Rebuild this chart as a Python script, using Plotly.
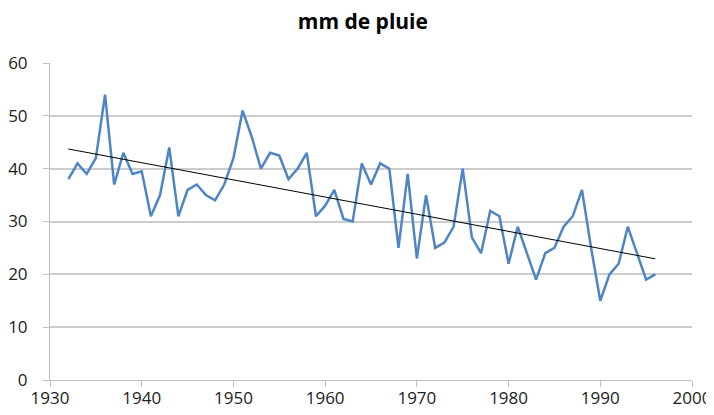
import numpy as np
import plotly.graph_objects as go

years = list(range(1932, 1997))
rain_mm = [38, 41, 39, 42, 54, 37, 43, 39, 39.5, 31,
           35, 44, 31, 36, 37, 35, 34, 37, 42, 51,
           46, 40, 43, 42.5, 38, 40, 43, 31, 33, 36,
           30.5, 30, 41, 37, 41, 40, 25, 39, 23, 35,
           25, 26, 29, 40, 27, 24, 32, 31, 22, 29,
           24, 19, 24, 25, 29, 31, 36, 25, 15, 20,
           22, 29, 24, 19, 20]
title_text = "mm de pluie"
x_ticks = [1930, 1940, 1950, 1960, 1970, 1980, 1990, 2000]
y_ticks = [0, 10, 20, 30, 40, 50, 60]

# Linear trend line (least squares)
slope, intercept = np.polyfit(years, rain_mm, 1)
trend_x = [years[0], years[-1]]
trend_y = [slope * x + intercept for x in trend_x]

fig = go.Figure()
fig.add_trace(go.Scatter(x=years, y=rain_mm, mode="lines",
                         line=dict(color="#4D85C5", width=2.5),
                         showlegend=False))
fig.add_trace(go.Scatter(x=trend_x, y=trend_y, mode="lines",
                         line=dict(color="#000000", width=1),
                         showlegend=False))

fig.update_layout(
    width=714, height=415,
    margin=dict(l=42, r=30, t=55, b=43),
    paper_bgcolor="white", plot_bgcolor="white",
    font=dict(family="Open Sans, Lato, sans-serif", size=17, color="#222222"),
    title=dict(text="<b>" + title_text + "</b>", x=0.497, xanchor="center",
               y=0.966, yanchor="middle",
               font=dict(size=21, color="#000000")),
)
fig.update_xaxes(range=[1930, 2000], tickvals=x_ticks, showgrid=False,
                 showline=True, linecolor="#BFBFBF", linewidth=1,
                 ticks="outside", ticklen=6, tickcolor="#BFBFBF",
                 ticklabelstandoff=-3,
                 zeroline=False, automargin=False)
fig.update_yaxes(range=[0, 60], tickvals=y_ticks, showgrid=True,
                 gridcolor="#CCCCCC", gridwidth=1.5,
                 showline=True, linecolor="#BFBFBF", linewidth=1,
                 ticks="outside", ticklen=6, tickcolor="#BFBFBF",
                 ticklabelstandoff=12,
                 zeroline=False, automargin=False)

fig.write_html("out.html")
